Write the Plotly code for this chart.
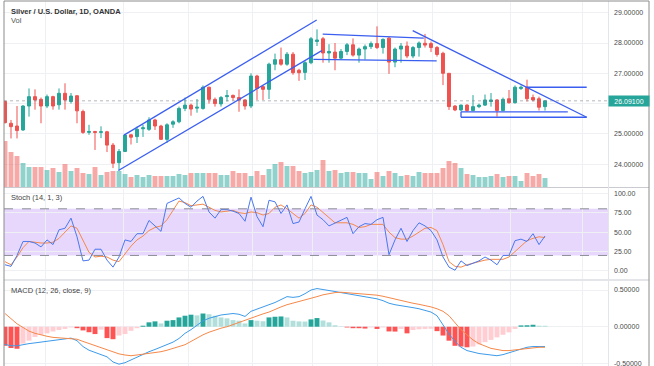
import plotly.graph_objects as go

# ---------------- data ----------------
idx = list(range(91))

opens = [26.07,25.35,25.26,25.13,25.92,26.23,26.14,25.92,26.23,25.96,
         26.34,26.07,26.26,25.74,25.05,25.08,25.05,25.07,24.63,24.05,
         24.42,24.97,24.91,25.17,25.15,25.46,25.26,24.82,25.32,25.40,
         25.84,25.95,25.85,25.84,26.54,26.14,25.99,26.23,26.27,26.20,
         26.12,25.92,26.91,26.56,26.47,27.30,27.45,27.30,27.63,27.10,
         27.03,27.35,28.05,28.14,27.67,27.70,27.50,27.72,27.94,27.60,
         27.80,27.88,27.98,27.85,28.16,27.37,27.80,27.90,27.57,27.85,
         27.99,27.98,27.85,27.66,27.00,25.92,25.79,25.95,25.77,25.90,
         25.95,26.07,26.12,25.77,26.16,26.03,26.50,26.54,26.20,26.16,
         25.90]
highs = [26.10,25.46,25.92,25.95,26.50,26.47,26.20,26.30,26.26,26.50,
         26.67,26.35,26.27,25.80,25.30,25.10,25.25,25.10,24.70,24.50,
         25.00,25.00,25.24,25.30,25.55,25.50,25.30,25.35,25.45,25.90,
         26.20,26.00,26.15,26.60,26.56,26.20,26.25,26.45,26.30,26.47,
         26.15,27.00,26.95,26.60,27.35,27.65,27.85,27.70,27.70,27.15,
         27.40,28.20,28.45,28.20,27.96,28.00,27.80,28.00,28.15,27.85,
         27.95,28.05,28.55,28.15,28.20,27.85,28.00,28.05,27.90,28.05,
         28.30,28.05,27.90,27.71,27.00,25.95,25.97,25.98,26.28,26.00,
         26.30,26.35,26.15,26.20,26.45,26.60,26.60,26.79,26.30,26.23,
         26.10]
lows = [25.35,24.85,24.85,25.10,25.57,25.80,25.35,25.85,25.80,25.80,
        25.80,26.00,25.35,25.00,24.97,24.47,24.86,24.40,23.87,23.80,
        24.40,24.65,24.70,24.90,25.10,25.13,24.80,24.70,25.20,25.35,
        25.75,25.60,25.70,25.80,26.00,25.90,25.90,26.07,26.10,25.73,
        25.80,25.85,26.12,26.12,26.15,27.10,27.25,27.25,26.95,26.75,
        26.78,27.30,27.90,27.35,27.35,27.10,27.45,27.60,27.55,27.35,
        27.45,27.80,27.80,27.65,26.98,27.20,27.35,27.50,27.50,27.55,
        27.85,27.70,27.55,26.61,25.79,25.75,25.75,25.72,25.75,25.85,
        25.92,25.90,25.57,25.75,26.00,26.00,26.45,26.07,26.07,25.77,
        25.77]
closes = [25.37,25.24,25.11,25.92,26.23,26.12,25.92,26.23,25.92,26.34,
          26.12,26.25,25.76,25.05,25.08,25.05,25.07,24.63,24.03,24.42,
          24.96,24.89,25.15,25.20,25.46,25.26,24.82,25.30,25.40,25.84,
          25.95,25.82,25.88,26.54,26.14,26.00,26.20,26.26,26.20,26.12,
          25.92,26.91,26.50,26.47,27.30,27.45,27.30,27.63,27.02,27.02,
          27.35,28.14,28.10,27.67,27.72,27.50,27.72,27.94,27.60,27.80,
          27.88,27.98,27.85,28.12,27.37,27.80,27.90,27.57,27.85,28.00,
          27.93,27.85,27.62,27.00,25.90,25.79,25.95,25.77,25.90,25.95,
          26.12,26.12,25.77,26.14,26.03,26.54,26.54,26.16,26.12,25.88,
          26.091]
volume = [46,35,31,24,20,20,20,17,19,15,23,16,19,14,13,20,12,15,16,16,
          13,10,12,10,12,11,11,11,11,13,12,14,14,14,14,14,12,12,16,14,
          14,11,16,12,18,23,25,21,21,16,14,15,17,27,16,17,14,15,15,14,
          14,8,15,11,16,14,11,12,11,15,14,14,14,19,26,24,19,13,12,10,
          10,11,13,10,11,11,6,14,11,13,9]

stoch_k = [8,6,20,38,38,36,31,40,34,53,55,68,44,13,14,28,28,14,5,18,
           40,38,48,48,65,58,51,87,91,94,87,82,90,96,76,68,79,79,77,74,
           64,95,70,57,91,89,74,85,61,63,80,96,72,66,58,62,66,69,48,57,
           61,60,66,69,21,40,55,38,52,62,58,52,40,18,5,1,13,7,10,13,
           18,14,8,20,20,39,41,38,48,34,45]
stoch_d = [12,8,18,30,38,37,36,36,37,42,50,58,55,40,24,18,19,18,14,12,
           22,32,40,45,52,56,58,66,78,90,88,84,85,86,82,78,76,77,78,75,
           74,76,75,72,74,82,85,80,74,68,74,85,82,75,68,62,62,62,60,56,
           57,60,60,60,50,43,41,41,45,50,55,56,52,34,12,6,5,8,10,12,
           14,15,15,15,18,25,33,39,42,44,43]

macd_line = [-0.24,-0.26,-0.26,-0.24,-0.23,-0.22,-0.21,-0.19,-0.18,-0.17,
             -0.16,-0.155,-0.19,-0.27,-0.32,-0.35,-0.38,-0.41,-0.48,-0.51,
             -0.49,-0.45,-0.41,-0.37,-0.34,-0.31,-0.28,-0.25,-0.21,-0.16,
             -0.09,-0.04,0.02,0.08,0.115,0.14,0.16,0.17,0.18,0.17,
             0.14,0.21,0.24,0.26,0.30,0.33,0.37,0.41,0.40,0.41,
             0.45,0.50,0.52,0.51,0.49,0.48,0.465,0.45,0.44,0.425,
             0.41,0.40,0.38,0.355,0.32,0.30,0.29,0.275,0.26,0.245,
             0.225,0.20,0.15,0.03,-0.10,-0.20,-0.28,-0.325,-0.35,-0.365,
             -0.375,-0.39,-0.395,-0.38,-0.355,-0.32,-0.30,-0.28,-0.27,-0.27,
             -0.27]
signal_line = [0.18,0.11,0.04,-0.01,-0.06,-0.09,-0.115,-0.13,-0.145,-0.15,
               -0.155,-0.16,-0.17,-0.20,-0.23,-0.26,-0.29,-0.32,-0.35,-0.37,
               -0.385,-0.395,-0.385,-0.375,-0.365,-0.355,-0.34,-0.32,-0.30,-0.27,
               -0.245,-0.20,-0.15,-0.11,-0.075,-0.045,-0.02,0.0,0.03,0.06,
               0.09,0.125,0.15,0.175,0.20,0.24,0.27,0.30,0.32,0.345,
               0.36,0.385,0.41,0.435,0.455,0.465,0.47,0.465,0.455,0.445,
               0.44,0.435,0.43,0.415,0.395,0.37,0.35,0.335,0.32,0.305,
               0.29,0.27,0.245,0.21,0.15,0.06,-0.04,-0.11,-0.18,-0.23,
               -0.26,-0.295,-0.31,-0.325,-0.325,-0.315,-0.305,-0.29,-0.28,-0.28,
               -0.28]
macd_hist = [-0.26,-0.29,-0.30,-0.23,-0.19,-0.14,-0.11,-0.09,-0.065,-0.045,
             -0.03,-0.01,-0.02,-0.05,-0.075,-0.10,-0.04,-0.155,-0.17,-0.12,
             -0.10,-0.055,-0.02,0.014,0.06,0.073,0.045,0.082,0.09,0.127,
             0.15,0.164,0.155,0.18,0.17,0.15,0.127,0.114,0.09,0.082,
             0.045,0.09,0.082,0.075,0.127,0.136,0.14,0.127,0.082,0.073,
             0.07,0.10,0.118,0.085,0.06,0.02,0.005,-0.01,-0.02,-0.02,
             -0.025,-0.01,-0.03,-0.01,-0.064,-0.066,-0.03,-0.09,-0.045,-0.035,
             -0.03,-0.028,-0.06,-0.12,-0.19,-0.26,-0.27,-0.28,-0.27,-0.24,
             -0.21,-0.18,-0.145,-0.11,-0.077,-0.03,0.018,0.02,0.027,0.014,
             0.013]

last_price = 26.091
price_ticks = [24, 25, 26, 27, 28, 29]
stoch_ticks = [0, 25, 50, 75, 100]
macd_ticks = [-0.5, 0.0, 0.5]
grid_x = [6.83, 19.67, 30.5, 41.17, 51.17, 62, 71.17, 84.33, 96.17]

# trend-line drawings: ((x0, y0), (x1, y1)) in bar index / price
drawings = [
    ((19.83, 24.96), (51.95, 28.76)),
    ((18.9, 23.79), (52.8, 27.75)),
    ((52.95, 28.29), (69.8, 28.16)),
    ((51.4, 27.46), (71.95, 27.41)),
    ((67.95, 28.41), (96.95, 25.55)),
    ((86.95, 26.54), (96.95, 26.54)),
    ((76.0, 25.73), (93.8, 25.73)),
    ((76.0, 25.55), (96.95, 25.55)),
    ((76.0, 25.55), (76.0, 25.73)),
]

# ---------------- styling ----------------
UP, DOWN = "#26a69a", "#ef5350"
VOL_UP, VOL_DOWN = "rgba(38,166,154,0.5)", "rgba(239,83,80,0.5)"
GRID = "#eef0f4"
TXT = "#4a4a4a"
FONT = "Arial"
W, H = 654, 366
L, R = 4, 46
PW = W - L - R


def px_x(px):
    return (px - L) / PW


def px_y(py):
    return (H - py) / H


xr = [-1 / 6, 100.5]
main_dom = [px_y(187), px_y(2)]
stoch_dom = [px_y(279), px_y(189)]
macd_dom = [0, px_y(281)]

vol_colors = [VOL_UP if c >= o else VOL_DOWN for o, c in zip(opens, closes)]

hist_colors = []
for i, v in enumerate(macd_hist):
    prev = macd_hist[i - 1] if i > 0 else v
    if v >= 0:
        hist_colors.append("#26a69a" if v >= prev else "#b2dfdb")
    else:
        hist_colors.append("#ff5252" if v <= prev else "#ffcdd2")

fig = go.Figure()

fig.add_trace(go.Bar(x=idx, y=volume, marker_color=vol_colors, marker_line_width=0,
                     width=0.82, xaxis="x", yaxis="y", hoverinfo="skip"))
fig.add_trace(go.Candlestick(x=idx, open=opens, high=highs, low=lows, close=closes,
                             xaxis="x", yaxis="y2", whiskerwidth=0,
                             increasing=dict(line=dict(color=UP, width=1), fillcolor=UP),
                             decreasing=dict(line=dict(color=DOWN, width=1), fillcolor=DOWN)))

fig.add_trace(go.Scatter(x=idx, y=stoch_d, mode="lines", line=dict(color="#f5894a", width=1),
                         xaxis="x2", yaxis="y3"))
fig.add_trace(go.Scatter(x=idx, y=stoch_k, mode="lines", line=dict(color="#4a78ee", width=1),
                         xaxis="x2", yaxis="y3"))

fig.add_trace(go.Bar(x=idx, y=macd_hist, marker_color=hist_colors, marker_line_width=0,
                     width=0.82, xaxis="x3", yaxis="y4"))
fig.add_trace(go.Scatter(x=idx, y=macd_line, mode="lines", line=dict(color="#3d9be9", width=1),
                         xaxis="x3", yaxis="y4"))
fig.add_trace(go.Scatter(x=idx, y=signal_line, mode="lines", line=dict(color="#f5894a", width=1),
                         xaxis="x3", yaxis="y4"))

xcommon = dict(range=xr, tickvals=grid_x, showticklabels=False, showgrid=True,
               gridcolor=GRID, gridwidth=1, zeroline=False, ticks="", showline=False,
               fixedrange=True, automargin=False)
tickfont = dict(family=FONT, size=7, color=TXT)
ycommon = dict(side="right", showgrid=True, gridcolor=GRID, zeroline=False, ticks="",
               showline=False, tickfont=tickfont, ticklabelstandoff=5, automargin=False,
               fixedrange=True, ticklabeloverflow="allow")

# the 26.00000 label sits under the last-price tag, as in the original
price_text = ["" if t == 26 else f"{t:.5f}" for t in price_ticks]

fig.update_layout(
    width=W, height=H, margin=dict(l=L, r=R, t=0, b=0, autoexpand=False),
    paper_bgcolor="white", plot_bgcolor="white", showlegend=False,
    xaxis=dict(domain=[0, 1], anchor="y", rangeslider=dict(visible=False), **xcommon),
    xaxis2=dict(domain=[0, 1], anchor="y3", **xcommon),
    xaxis3=dict(domain=[0, 1], anchor="y4", **xcommon),
    yaxis=dict(domain=main_dom, range=[0, 185], visible=False, showgrid=False, fixedrange=True),
    yaxis2=dict(overlaying="y", anchor="x", range=[23.2475, 29.353],
                tickvals=price_ticks, ticktext=price_text, **ycommon),
    yaxis3=dict(domain=stoch_dom, anchor="x2", range=[-10.3, 105.5],
                tickvals=stoch_ticks, ticktext=[f"{t:.2f}" for t in stoch_ticks], **ycommon),
    yaxis4=dict(domain=macd_dom, anchor="x3", range=[-0.535, 0.623],
                tickvals=macd_ticks, ticktext=[f"{t:.5f}" for t in macd_ticks], **ycommon),
)

shapes = []
# stoch band
shapes.append(dict(type="rect", xref="x2", yref="y3", x0=xr[0], x1=xr[1], y0=20, y1=80,
                   fillcolor="rgba(170,110,245,0.28)", line_width=0, layer="below"))
for lvl in (20, 80):
    shapes.append(dict(type="line", xref="x2", yref="y3", x0=xr[0], x1=xr[1], y0=lvl, y1=lvl,
                       line=dict(color="#8a8d96", width=1, dash="dash")))
# last price dotted line
shapes.append(dict(type="line", xref="x", yref="y2", x0=xr[0], x1=xr[1], y0=last_price, y1=last_price,
                   line=dict(color="rgba(120,123,134,0.55)", width=1, dash="dot")))
# trend-line drawings
for (x0, y0), (x1, y1) in drawings:
    shapes.append(dict(type="line", xref="x", yref="y2", x0=x0, y0=y0, x1=x1, y1=y1,
                       line=dict(color="#3a5ef0", width=1.3)))
# pane separators and frame
for py in (187.5, 280):
    shapes.append(dict(type="line", xref="paper", yref="paper", x0=px_x(4), x1=px_x(649),
                       y0=px_y(py), y1=px_y(py), line=dict(color="#c9cbd1", width=1)))
shapes.append(dict(type="line", xref="paper", yref="paper", x0=px_x(608.5), x1=px_x(608.5),
                   y0=0, y1=px_y(1), line=dict(color="#e3e5ea", width=1)))
shapes.append(dict(type="rect", xref="paper", yref="paper", x0=px_x(4), x1=px_x(649),
                   y0=px_y(367), y1=px_y(1), line=dict(color="#8c8c8c", width=1),
                   fillcolor="rgba(0,0,0,0)"))
fig.update_layout(shapes=shapes)

ann = [
    dict(text="<b>Silver / U.S. Dollar, 1D, OANDA</b>", x=px_x(9), y=px_y(11),
         font=dict(family=FONT, size=7.5, color="#333333")),
    dict(text="Vol", x=px_x(9), y=px_y(21), font=dict(family=FONT, size=7.5, color="#555555")),
    dict(text="Stoch (14, 1, 3)", x=px_x(9), y=px_y(197), font=dict(family=FONT, size=7.5, color="#444444")),
    dict(text="MACD (12, 26, close, 9)", x=px_x(9), y=px_y(290), font=dict(family=FONT, size=7.5, color="#444444")),
]
for a in ann:
    a.update(xref="paper", yref="paper", xanchor="left", yanchor="middle", showarrow=False)
fig.update_layout(annotations=ann)
fig.add_annotation(text=f"{last_price:.5f}", xref="paper", yref="y2", x=px_x(608), y=last_price,
                   xanchor="left", yanchor="middle", showarrow=False,
                   font=dict(family=FONT, size=7, color="white"), bgcolor=UP,
                   borderpad=1.5, width=37, align="center")

fig.write_html("out.html", config={"displayModeBar": False, "staticPlot": True},
               post_script="document.body.style.margin='0';document.body.style.overflow='hidden';")
